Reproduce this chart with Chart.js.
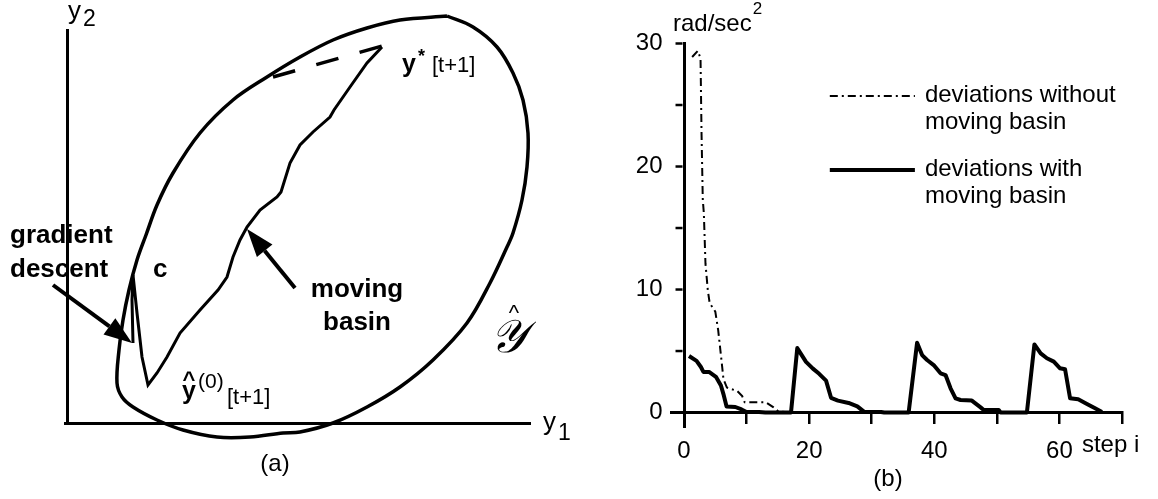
<!DOCTYPE html>
<html>
<head>
<meta charset="utf-8">
<script src="https://cdn.jsdelivr.net/npm/chart.js"></script>
<style>
  html, body { margin: 0; padding: 0; background: #fff; }
  #wrap { position: relative; width: 1158px; height: 499px; overflow: hidden; }
  canvas { position: absolute; top: 0; }
  #diagram { left: 0; }
  #deviations { left: 620px; }
</style>
</head>
<body>
<div id="wrap">
  <canvas id="diagram" width="620" height="499"></canvas>
  <canvas id="deviations" width="538" height="499"></canvas>
</div>
<script>
const ink = '#000';
const sans = '"Liberation Sans", Arial, Helvetica, sans-serif';

// (a) output space, y1 / y2 units
const boundaryY1 = [380, 406, 430, 446, 456, 461, 460, 455, 446, 440, 423, 400, 366, 333, 300, 266, 233, 216, 183, 150,
                    116, 90, 66, 55, 50, 52, 56, 62, 70, 79, 90, 106, 133, 166, 200, 233, 266, 300, 333, 380];
const boundaryY2 = [407, 396, 376, 350, 323, 290, 256, 223, 190, 176, 140, 100, 63, 36, 16, 0, -9, -10, -14, -14,
                    -7, 3, 16, 26, 40, 73, 103, 133, 163, 188, 218, 250, 290, 323, 346, 366, 383, 395, 403, 407];
// gradient descent spike + moving basin path up to y*
const basinPathY1 = [66, 65, 66, 70, 75, 81, 90, 100, 113, 133, 151, 160, 166, 173, 180, 193, 210, 214, 223, 233, 246, 263, 267, 283, 300, 315];
const basinPathY2 = [80, 123, 148, 110, 66, 38, 50, 66, 90, 113, 133, 146, 166, 183, 196, 213, 226, 231, 260, 278, 291, 306, 313, 336, 360, 376];
const targetJumpY1 = [206, 315];
const targetJumpY2 = [346, 377];
// label arrows: tail -> tip
const arrowTailY1 = [228, -14];
const arrowTailY2 = [135, 138];
const arrowTipY1 = [180, 65];
const arrowTipY2 = [194, 80];

// (b) deviations per step
const withoutStep = [1.3, 2.2, 2.64, 2.8, 3.0, 3.17, 3.43, 3.8, 4.1, 5.0, 5.46, 6.1, 6.3, 6.85, 8.5, 9.3, 9.7, 13.1, 14.25, 15.1, 17.1];
const withoutDev  = [28.9, 29.4, 28.8, 22.7, 17.3, 16.2, 12.1, 9.96, 8.9, 8.2, 6.7, 3.72, 2.73, 2.03, 1.75, 1.33, 0.83, 0.83, 0.44, 0.08, 0];
const withStep = [0.8, 2.0, 2.7, 3.1, 4.0, 5.1, 5.9, 6.3, 6.8, 8.2, 9.2, 10.0, 12.0, 13.0,
                  17.1, 18.1, 19.5, 20.6, 21.6, 22.7, 23.5, 24.6, 26.3, 27.7, 28.8, 31.5, 32.0,
                  35.9, 37.25, 38.05, 38.85, 39.9, 41.0, 41.8, 42.6, 43.4, 44.2, 46.0, 47.4, 47.9, 50.3, 50.6,
                  54.8, 56.0, 57.0, 58.0, 59.1, 60.1, 60.9, 61.7, 63.0, 64.4, 65.7, 66.8];
const withDev  = [4.6, 4.2, 3.7, 3.3, 3.3, 2.9, 2.2, 1.5, 0.5, 0.45, 0.25, 0.05, 0.05, 0,
                  0, 5.24, 4.12, 3.57, 3.15, 2.59, 1.2, 0.97, 0.78, 0.5, 0.05, 0.05, 0,
                  0, 5.68, 4.67, 4.27, 3.86, 3.19, 3.05, 1.97, 1.15, 1.02, 0.97, 0.42, 0.2, 0.2, 0,
                  0, 5.54, 4.81, 4.41, 4.14, 3.6, 3.52, 1.16, 1.08, 0.7, 0.35, 0.05];
const stepTicks = [0, 10, 20, 30, 40, 50, 60, 70];
const stepLabels = [0, 20, 40, 60];
const devTicks = [0, 5, 10, 15, 20, 25, 30];
const devLabels = [0, 10, 20, 30];
const legendLines = [['deviations without', 'moving basin'], ['deviations with', 'moving basin']];

const pts = (xs, ys) => xs.map((x, i) => ({x: x, y: ys[i]}));

function drawArrow(ctx, x0, y0, x1, y1) {
    const a = Math.atan2(y1 - y0, x1 - x0);
    const len = 28, half = 10;
    const bx = x1 - Math.cos(a) * len, by = y1 - Math.sin(a) * len;
    ctx.lineWidth = 4;
    ctx.beginPath(); ctx.moveTo(x0, y0); ctx.lineTo(bx, by); ctx.stroke();
    ctx.beginPath();
    ctx.moveTo(x1, y1);
    ctx.lineTo(bx + Math.sin(a) * half, by - Math.cos(a) * half);
    ctx.lineTo(bx - Math.sin(a) * half, by + Math.cos(a) * half);
    ctx.closePath(); ctx.fill();
}

const diagramLabels = {
    id: 'diagramLabels',
    afterDatasetsDraw(chart) {
        const {ctx, scales: {x, y}} = chart;
        const X = v => x.getPixelForValue(v), Y = v => y.getPixelForValue(v);
        ctx.save();
        ctx.fillStyle = ink; ctx.strokeStyle = ink;
        arrowTailY1.forEach((v, i) => drawArrow(ctx, X(v), Y(arrowTailY2[i]), X(arrowTipY1[i]), Y(arrowTipY2[i])));

        const txt = (s, vx, vy, font, align) => {
            ctx.font = font; ctx.textAlign = align || 'left'; ctx.textBaseline = 'alphabetic';
            ctx.fillText(s, X(vx), Y(vy));
        };
        const bold = `bold 26px ${sans}`;
        txt('y', 1, 404, `26px ${sans}`);
        txt('2', 16, 397, `23px ${sans}`);
        txt('y', 476, -7, `26px ${sans}`);
        txt('1', 491, -17, `23px ${sans}`);
        txt('gradient', -57, 180, bold);
        txt('descent', -57, 146, bold);
        txt('c', 86, 146, bold);
        txt('moving', 290, 126, bold, 'center');
        txt('basin', 290, 93, bold, 'center');
        // y-hat (0) [t+1]
        txt('^', 122, 36, `bold 22px ${sans}`, 'center');
        txt('y', 115, 24, `bold 25px ${sans}`);
        txt('(0)', 131, 35, `21px ${sans}`);
        txt('[t+1]', 160, 19, `22px ${sans}`);
        // y* [t+1]
        txt('y', 335, 351, `bold 25px ${sans}`);
        txt('*', 351, 361, `bold 18px ${sans}`);
        txt('[t+1]', 365, 351, `22px ${sans}`);
        // reachable set
        txt('\u{1D4B4}', 441, 71, `italic 46px "DejaVu Serif", serif`, 'center');
        txt('^', 447, 103, `22px ${sans}`, 'center');
        ctx.font = `24px ${sans}`; ctx.textAlign = 'center'; ctx.textBaseline = 'middle';
        ctx.fillText('(a)', X(208), Y(-41));
        ctx.restore();
    }
};

new Chart(document.getElementById('diagram'), {
    type: 'line',
    data: {
        datasets: [
            {data: pts(boundaryY1, boundaryY2), borderColor: ink, borderWidth: 3.5, tension: 0.35, pointRadius: 0, clip: false},
            {data: pts(basinPathY1, basinPathY2), borderColor: ink, borderWidth: 3, tension: 0, pointRadius: 0, clip: false},
            {data: pts(targetJumpY1, targetJumpY2), borderColor: ink, borderWidth: 3.5, borderDash: [23, 22], pointRadius: 0, clip: false}
        ]
    },
    options: {
        responsive: false, animation: false, events: [],
        layout: {padding: {left: 65, right: 90, top: 30, bottom: 76}},
        plugins: {legend: {display: false}, tooltip: {enabled: false}},
        scales: {
            x: {type: 'linear', min: -2, max: 463, position: {y: 0},
                grid: {display: false}, ticks: {display: false}, border: {display: true, color: ink, width: 3}},
            y: {type: 'linear', min: 0, max: 393, position: {x: 0},
                grid: {display: false}, ticks: {display: false}, border: {display: true, color: ink, width: 3}}
        }
    },
    plugins: [diagramLabels]
});

const deviationLabels = {
    id: 'deviationLabels',
    afterDraw(chart) {
        const {ctx, scales: {x, y}} = chart;
        const X = v => x.getPixelForValue(v), Y = v => y.getPixelForValue(v);
        ctx.save();
        ctx.fillStyle = ink; ctx.strokeStyle = ink;

        // y ticks, left of the axis that stands at step 0
        const ax = X(0) - 1.5;
        ctx.lineWidth = 2.5;
        ctx.font = `24px ${sans}`; ctx.textAlign = 'right'; ctx.textBaseline = 'middle';
        y.ticks.forEach(t => {
            const ty = Y(t.value);
            ctx.beginPath(); ctx.moveTo(ax, ty); ctx.lineTo(ax - 7, ty); ctx.stroke();
            if (devLabels.includes(t.value)) ctx.fillText(String(t.value), ax - 20, ty);
        });

        ctx.textBaseline = 'alphabetic'; ctx.textAlign = 'left';
        ctx.fillText('rad/sec', X(-1.76), Y(31.0));
        const w = ctx.measureText('rad/sec').width;
        ctx.font = `17px ${sans}`;
        ctx.fillText('2', X(-1.76) + w + 1, Y(32.4));
        ctx.font = `24px ${sans}`;
        ctx.fillText('step i', X(63.6), Y(-3.2));
        ctx.textAlign = 'center'; ctx.textBaseline = 'middle';
        ctx.fillText('(b)', X(32.6), Y(-5.4));

        // legend
        const rows = [25.73, 19.72];
        ctx.textAlign = 'left'; ctx.textBaseline = 'alphabetic';
        chart.data.datasets.forEach((ds, i) => {
            const sy = Y(rows[i]);
            ctx.lineWidth = ds.borderWidth;
            ctx.setLineDash(ds.borderDash || []);
            ctx.beginPath(); ctx.moveTo(X(23.3), sy); ctx.lineTo(X(36.9), sy); ctx.stroke();
            ctx.setLineDash([]);
            legendLines[i].forEach((line, k) => ctx.fillText(line, X(38.5), sy + 6 + k * 27));
        });
        ctx.restore();
    }
};

new Chart(document.getElementById('deviations'), {
    type: 'line',
    data: {
        datasets: [
            {label: 'deviations without moving basin', data: pts(withoutStep, withoutDev), borderColor: ink,
             borderWidth: 2, borderDash: [8, 4, 2, 4], pointRadius: 0, tension: 0},
            {label: 'deviations with moving basin', data: pts(withStep, withDev), borderColor: ink,
             borderWidth: 4, borderJoinStyle: 'round', pointRadius: 0, tension: 0}
        ]
    },
    options: {
        responsive: false, animation: false, events: [],
        layout: {padding: {left: 51.5, right: 36, top: 43.5, bottom: 71.7}},
        plugins: {legend: {display: false}, tooltip: {enabled: false}},
        scales: {
            x: {type: 'linear', min: -2, max: 70, position: {y: 0},
                afterBuildTicks: s => { s.ticks = stepTicks.map(v => ({value: v})); },
                grid: {drawOnChartArea: false, drawTicks: true, tickLength: 10, lineWidth: 2.5, color: ink},
                border: {display: true, width: 3, color: ink},
                ticks: {color: ink, font: {family: sans, size: 24}, padding: 14, maxRotation: 0, autoSkip: false,
                        callback: v => stepLabels.includes(v) ? String(v) : ''}},
            y: {type: 'linear', min: -1.2, max: 30, position: {x: 0},
                afterBuildTicks: s => { s.ticks = devTicks.map(v => ({value: v})); },
                grid: {display: false},
                border: {display: true, width: 3, color: ink},
                ticks: {display: false}}
        }
    },
    plugins: [deviationLabels]
});
</script>
</body>
</html>
